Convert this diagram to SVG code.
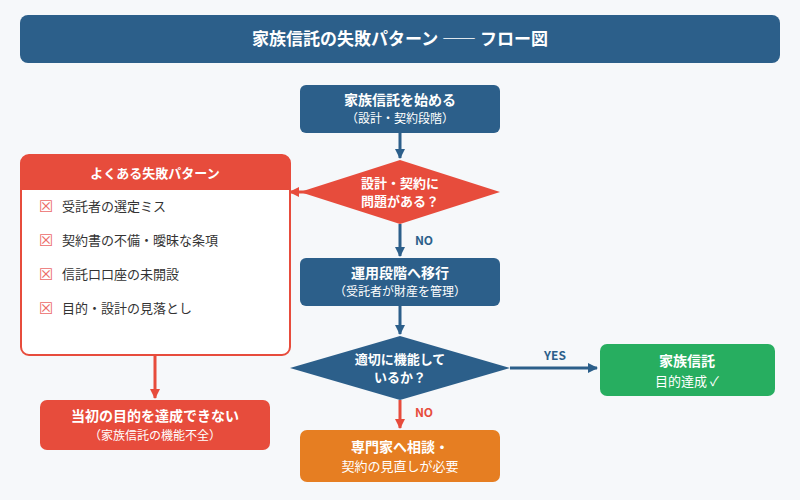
<svg xmlns="http://www.w3.org/2000/svg" width="800" height="500" viewBox="0 0 800 500">
<style>
text{font-family:"Noto Sans CJK JP","Noto Sans",sans-serif;text-anchor:middle;fill:#fff}
.b{font-weight:bold;font-size:14px}
.s{font-size:12px}
.item{text-anchor:start;fill:#333;font-size:13px}
.chk{text-anchor:start;fill:#ec6a6a;font-size:16px;font-family:"DejaVu Sans",sans-serif}
.lb{font-weight:bold;font-size:12px}
</style>
<defs>
<marker id="ab" markerWidth="10" markerHeight="10" refX="9" refY="5" orient="auto" markerUnits="userSpaceOnUse" viewBox="0 0 10 10"><path d="M0,0L10,5L0,10Z" fill="#2c5f8a"/></marker>
<marker id="ar" markerWidth="10" markerHeight="10" refX="9" refY="5" orient="auto" markerUnits="userSpaceOnUse" viewBox="0 0 10 10"><path d="M0,0L10,5L0,10Z" fill="#e74c3c"/></marker>
</defs>
<rect width="800" height="500" fill="#f6f8fa"/>
<g id="title"><rect x="20" y="15" width="760" height="48" rx="8" fill="#2c5f8a"/><text x="400" y="45" style="font-weight:bold;font-size:17px">家族信託の失敗パターン ―― フロー図</text></g>
<g id="connectors" stroke-width="3" fill="none">
<line x1="400" y1="133" x2="400" y2="158" stroke="#2c5f8a" marker-end="url(#ab)"/>
<line x1="400" y1="224" x2="400" y2="256" stroke="#2c5f8a" marker-end="url(#ab)"/>
<line x1="400" y1="306" x2="400" y2="334" stroke="#2c5f8a" marker-end="url(#ab)"/>
<line x1="510" y1="368" x2="597" y2="368" stroke="#2c5f8a" marker-end="url(#ab)"/>
<line x1="400" y1="400" x2="400" y2="428" stroke="#e74c3c" marker-end="url(#ar)"/>
<line x1="315" y1="192" x2="290" y2="192" stroke="#e74c3c" marker-end="url(#ar)"/>
<line x1="155" y1="355" x2="155" y2="398" stroke="#e74c3c" marker-end="url(#ar)"/>
</g>
<g id="labels">
<text x="424" y="245" class="lb" style="fill:#2c5f8a">NO</text>
<text x="555" y="360" class="lb" style="fill:#2c5f8a">YES</text>
<text x="424" y="417" class="lb" style="fill:#e74c3c">NO</text>
</g>
<g id="start"><rect x="300" y="85" width="200" height="48" rx="6" fill="#2c5f8a"/><text x="400" y="105" class="b">家族信託を始める</text><text x="400" y="123" class="s">（設計・契約段階）</text></g>
<g id="d1"><polygon points="400,160 500,192 400,224 300,192" fill="#e74c3c"/><text x="400" y="188" class="b" style="font-size:13px">設計・契約に</text><text x="400" y="206" class="b" style="font-size:13px">問題がある？</text></g>
<g id="op"><rect x="300" y="258" width="200" height="48" rx="6" fill="#2c5f8a"/><text x="400" y="278" class="b">運用段階へ移行</text><text x="400" y="296" class="s">（受託者が財産を管理）</text></g>
<g id="d2"><polygon points="400,336 510,368 400,400 290,368" fill="#2c5f8a"/><text x="400" y="364" class="b" style="font-size:13px">適切に機能して</text><text x="400" y="382" class="b" style="font-size:13px">いるか？</text></g>
<g id="ok"><rect x="600" y="344" width="175" height="52" rx="7" fill="#27ae60"/><text x="687" y="366" class="b">家族信託</text><text x="687" y="386" style="font-size:13px">目的達成 ✓</text></g>
<g id="fix"><rect x="300" y="430" width="200" height="52" rx="7" fill="#e67e22"/><text x="400" y="452" class="b">専門家へ相談・</text><text x="400" y="471" style="font-size:13px">契約の見直しが必要</text></g>
<g id="patterns"><rect x="21" y="155" width="269" height="200" rx="8" fill="#fff" stroke="#e74c3c" stroke-width="2"/><path d="M21,190V163a8,8 0 0 1 8,-8H282a8,8 0 0 1 8,8V190Z" fill="#e74c3c"/><text x="155" y="178" class="b" style="font-size:13px">よくある失敗パターン</text>
<text x="39" y="212" class="chk">☒</text><text x="62" y="211" class="item">受託者の選定ミス</text>
<text x="39" y="246" class="chk">☒</text><text x="62" y="245" class="item">契約書の不備・曖昧な条項</text>
<text x="39" y="280" class="chk">☒</text><text x="62" y="279" class="item">信託口口座の未開設</text>
<text x="39" y="314" class="chk">☒</text><text x="62" y="313" class="item">目的・設計の見落とし</text></g>
<g id="fail"><rect x="40" y="400" width="230" height="50" rx="7" fill="#e74c3c"/><text x="155" y="421" class="b">当初の目的を達成できない</text><text x="155" y="440" class="s">（家族信託の機能不全）</text></g>
</svg>
